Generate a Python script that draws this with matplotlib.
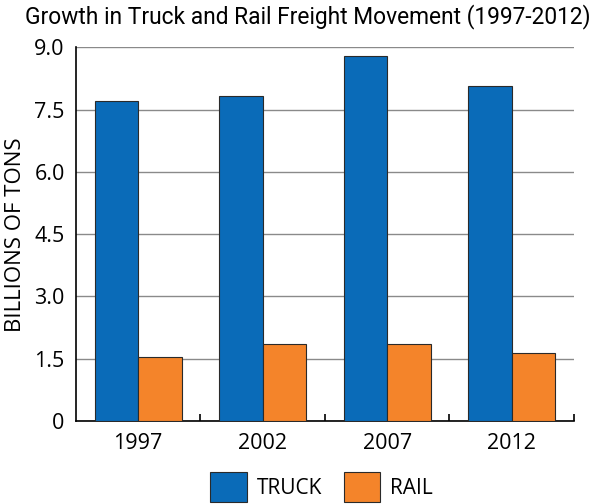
import numpy as np
import matplotlib
matplotlib.use("Agg")
import matplotlib.pyplot as plt

years = ["1997", "2002", "2007", "2012"]
truck = [7.71, 7.83, 8.80, 8.06]
rail = [1.53, 1.86, 1.86, 1.63]
yticks = [0, 1.5, 3.0, 4.5, 6.0, 7.5, 9.0]
ytick_labels = ["0", "1.5", "3.0", "4.5", "6.0", "7.5", "9.0"]

blue = "#0a6bb8"
orange = "#f4842a"

plt.rcParams["font.family"] = ["Open Sans", "DejaVu Sans"]

fig = plt.figure(figsize=(5.97, 5.04), dpi=100)
ax = fig.add_axes([0.127, 0.1647, 0.8345, 0.7411])

x = np.arange(len(years))
w = 0.35
ax.bar(x - w / 2, truck, w, color=blue, edgecolor="#2a2a2a", linewidth=0.8, label="TRUCK", zorder=3)
ax.bar(x + w / 2, rail, w, color=orange, edgecolor="#2a2a2a", linewidth=0.8, label="RAIL", zorder=3)

ax.set_xlim(-0.5, 3.5)
ax.set_ylim(0, 9.0)
ax.set_yticks(yticks)
ax.set_yticklabels(ytick_labels)
ax.yaxis.grid(True, color="#8a8a8a", linewidth=1.0, zorder=0)
ax.set_axisbelow(True)

ax.set_xticks(x)
ax.set_xticklabels(years)
ax.set_xticks(x + 0.5, minor=True)
ax.tick_params(axis="x", which="major", length=0, pad=9, labelsize=15.5)
ax.tick_params(axis="x", which="minor", direction="in", length=5, width=1.2)
ax.tick_params(axis="y", length=0, pad=8, labelsize=15.5)

for s in ["top", "right"]:
    ax.spines[s].set_visible(False)
ax.spines["left"].set_linewidth(1.2)
ax.spines["bottom"].set_linewidth(1.2)

ax.set_ylabel("BILLIONS OF TONS", fontsize=16, labelpad=6)

fig.text(0.516, 0.968, "Growth in Truck and Rail Freight Movement (1997-2012)",
         ha="center", va="center", fontsize=16.4,
         family=["Roboto", "DejaVu Sans"])

fig.legend(loc="center", bbox_to_anchor=(0.539, 0.034), ncol=2, frameon=False,
           fontsize=15, handlelength=1.75, handleheight=1.8, handletextpad=0.5,
           columnspacing=1.0, borderpad=0)

fig.savefig("out.png", dpi=100)
